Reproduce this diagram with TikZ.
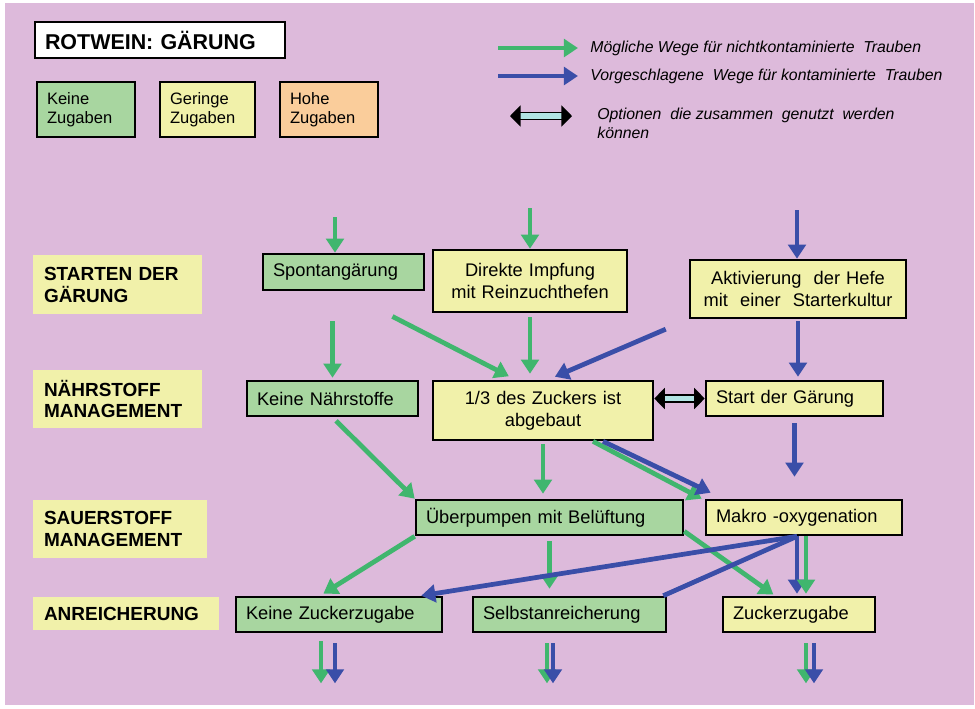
\documentclass[tikz,border=0pt]{standalone}
\usepackage{fontspec}
\setmainfont{Liberation Sans}
\usetikzlibrary{arrows.meta,calc}
\definecolor{bgpink}{RGB}{221,186,219}
\definecolor{boxgreen}{RGB}{168,214,160}
\definecolor{boxyellow}{RGB}{241,241,170}
\definecolor{boxorange}{RGB}{250,205,155}
\definecolor{pathgreen}{RGB}{64,182,110}
\definecolor{pathblue}{RGB}{58,78,168}
\definecolor{optcyan}{RGB}{178,228,228}
\tikzset{
  box/.style={draw=black, line width=1.5pt, inner xsep=0.2cm, align=left, font=\fontsize{10.4}{12.5}\selectfont},
  gbox/.style={box, fill=boxgreen},
  ybox/.style={box, fill=boxyellow},
  obox/.style={box, fill=boxorange},
  lane/.style={fill=boxyellow, inner xsep=0.22cm, align=left, font=\fontsize{10.8}{12.5}\selectfont\bfseries},
  legtext/.style={font=\fontsize{9}{10.5}\selectfont\itshape, align=left, inner sep=0pt},
  gpath/.style={draw=pathgreen, line width=2.7pt, -{Triangle[length=8pt,width=10pt]}},
  bpath/.style={draw=pathblue, line width=2.7pt, -{Triangle[length=8pt,width=10pt]}},
  bline/.style={draw=pathblue, line width=2.7pt},
  opt/.style={draw=black, line width=0.9pt, double=optcyan, double distance=3pt,
    {Triangle[length=6pt,width=12pt]}-{Triangle[length=6pt,width=12pt]}},
}
\begin{document}
\begin{tikzpicture}[x=0.02cm, y=-0.02cm]
  \fill[white] (0,0) rectangle (975,708);
  \fill[bgpink] (5,3) rectangle (974,705);

  % title and legend
  \node[box, fill=white, text width=4.6cm, minimum height=0.72cm, font=\fontsize{12.2}{14}\selectfont\bfseries] (title) at (160,40) {ROTWEIN: GÄRUNG};
  \node[gbox, text width=1.56cm, minimum height=1.1cm, font=\fontsize{9.4}{10.5}\selectfont] (keine) at (86,109.5) {Keine\\Zugaben};
  \node[ybox, text width=1.5cm, minimum height=1.1cm, font=\fontsize{9.4}{10.5}\selectfont] (geringe) at (207.5,109.5) {Geringe\\Zugaben};
  \node[obox, text width=1.56cm, minimum height=1.1cm, font=\fontsize{9.4}{10.5}\selectfont] (hohe) at (329,109.5) {Hohe\\Zugaben};

  \coordinate (lg1) at (498,48);  \coordinate (lg2) at (578,48);
  \coordinate (lb1) at (498,76);  \coordinate (lb2) at (578,76);
  \coordinate (lo1) at (510,116); \coordinate (lo2) at (572,116);
  \draw[gpath] (lg1) -- (lg2);
  \draw[bpath] (lb1) -- (lb2);
  \draw[opt] (lo1) -- (lo2);
  \node[legtext, anchor=west] (lgt) at (590,48) {Mögliche Wege für nichtkontaminierte \ Trauben};
  \node[legtext, anchor=west] (lbt) at (590,76) {Vorgeschlagene \ Wege für kontaminierte \ Trauben};
  \node[legtext, anchor=north west] (lot) at (597,108) {Optionen \ die zusammen \ genutzt \ werden\\können};

  % lanes
  \node[lane, text width=2.94cm, minimum height=1.18cm] (starten) at (117.5,284.5) {STARTEN DER\\GÄRUNG};
  \node[lane, text width=2.94cm, minimum height=1.16cm] (naehrm) at (117.5,399) {NÄHRSTOFF\\MANAGEMENT};
  \node[lane, text width=3.04cm, minimum height=1.16cm] (sauerm) at (120,529) {SAUERSTOFF\\MANAGEMENT};
  \node[lane, text width=3.28cm, minimum height=0.66cm] (anreich) at (126,613.5) {ANREICHERUNG};

  % steps
  \node[gbox, text width=2.82cm, minimum height=0.72cm] (spont) at (343.5,272) {Spontangärung};
  \node[ybox, text width=3.48cm, minimum height=1.24cm, align=center] (direkt) at (530,281) {Direkte Impfung\\mit Reinzuchthefen};
  \node[ybox, text width=3.92cm, minimum height=1.16cm, align=center] (aktiv) at (798,289) {Aktivierung \ der Hefe\\mit \ einer \ Starterkultur};
  \node[gbox, text width=3.02cm, minimum height=0.7cm] (naehr) at (332.5,398.5) {Keine Nährstoffe};
  \node[ybox, text width=4cm, minimum height=1.18cm, align=center] (drittel) at (543,410.5) {1/3 des Zuckers ist\\abgebaut};
  \node[ybox, text width=3.14cm, minimum height=0.7cm] (startg) at (794.5,398.5) {Start der Gärung};
  \node[gbox, text width=4.94cm, minimum height=0.7cm] (ueber) at (549.5,517.5) {Überpumpen mit Belüftung};
  \node[ybox, text width=3.52cm, minimum height=0.7cm] (makro) at (804,517.5) {Makro -oxygenation};
  \node[gbox, text width=3.72cm, minimum height=0.7cm] (keinez) at (339,614.5) {Keine Zuckerzugabe};
  \node[gbox, text width=3.46cm, minimum height=0.7cm] (selbst) at (569.5,614.5) {Selbstanreicherung};
  \node[ybox, text width=2.64cm, minimum height=0.7cm] (zucker) at (799,614.5) {Zuckerzugabe};

  % inputs
  \coordinate (in1) at (335,217);
  \coordinate (in2) at (530,208);
  \coordinate (in3) at (797,210);
  \draw[gpath] (in1) -- (in1 |- spont.north);
  \draw[gpath] (in2) -- (in2 |- direkt.north);
  \draw[bpath] (in3) -- (in3 |- aktiv.north);

  % start -> nutrients
  \draw[gpath, shorten <=0.6cm, shorten >=0.04cm] (naehr.north |- spont.south) -- (naehr.north);
  \draw[gpath, shorten <=1.1cm, shorten >=0.15cm] (spont.south) -- ([xshift=-0.55cm]drittel.north);
  \draw[gpath, shorten <=0.08cm, shorten >=0.12cm] (direkt.south) -- (direkt.south |- drittel.north);
  \draw[bpath, shorten <=0.5cm, shorten >=0.15cm] (aktiv.south west) -- ([xshift=0.1cm]drittel.north);
  \draw[bpath, shorten <=0.04cm, shorten >=0.06cm] (aktiv.south) -- (aktiv.south |- startg.north);
  \draw[opt] (drittel.east |- startg.west) -- (startg.west);

  % nutrients -> oxygen
  \draw[gpath, shorten <=0.1cm] (naehr.south) -- (ueber.north west);
  \draw[gpath, shorten <=0.06cm, shorten >=0.1cm] (drittel.south) -- (drittel.south |- ueber.north);
  \draw[gpath] ([xshift=1cm]drittel.south) -- ([xshift=-0.06cm]makro.north west);
  \draw[bpath] ([xshift=1.2cm]drittel.south) -- ([xshift=0.12cm,yshift=0.12cm]makro.north west);
  \draw[bpath, shorten <=0.12cm, shorten >=0.44cm] (startg.south) -- (startg.south |- makro.north);

  % oxygen -> enrichment
  \coordinate (mb) at ([xshift=-0.14cm]makro.south);
  \coordinate (mg) at ([xshift=0.04cm]makro.south);
  \draw[gpath, shorten >=0.08cm] (ueber.south west) -- ([xshift=-0.38cm]keinez.north);
  \draw[gpath, shorten <=0.1cm, shorten >=0.14cm] (ueber.south) -- (ueber.south |- selbst.north);
  \draw[gpath, shorten >=0.04cm] ([yshift=0.1cm]ueber.south east) -- ([xshift=-0.48cm]zucker.north);
  \draw[bpath] (mb) -- ([xshift=-0.44cm]keinez.north east);
  \draw[bline] (mb) -- ([xshift=-0.08cm]selbst.north east);
  \draw[bpath, shorten >=0.04cm] (mb) -- (mb |- zucker.north);
  \draw[gpath, shorten >=0.04cm] (mg) -- (mg |- zucker.north);

  % outputs
  \coordinate (kg) at ([xshift=-0.36cm]keinez.south);
  \coordinate (kb) at ([xshift=-0.08cm]keinez.south);
  \coordinate (sg) at ([xshift=-0.45cm]selbst.south);
  \coordinate (sb) at ([xshift=-0.33cm]selbst.south);
  \coordinate (zg) at ([xshift=0.14cm]zucker.south);
  \coordinate (zb) at ([xshift=0.3cm]zucker.south);
  \coordinate (kgo) at ([yshift=-1cm]kg);
  \coordinate (kbo) at ([yshift=-1cm]kb);
  \coordinate (sgo) at ([yshift=-1cm]sg);
  \coordinate (sbo) at ([yshift=-1cm]sb);
  \coordinate (zgo) at ([yshift=-1cm]zg);
  \coordinate (zbo) at ([yshift=-1cm]zb);
  \draw[gpath, shorten <=0.16cm] (kg) -- (kgo);
  \draw[bpath, shorten <=0.2cm] (kb) -- (kbo);
  \draw[gpath, shorten <=0.2cm] (sg) -- (sgo);
  \draw[bpath, shorten <=0.2cm] (sb) -- (sbo);
  \draw[gpath, shorten <=0.2cm] (zg) -- (zgo);
  \draw[bpath, shorten <=0.2cm] (zb) -- (zbo);
\end{tikzpicture}
\end{document}
